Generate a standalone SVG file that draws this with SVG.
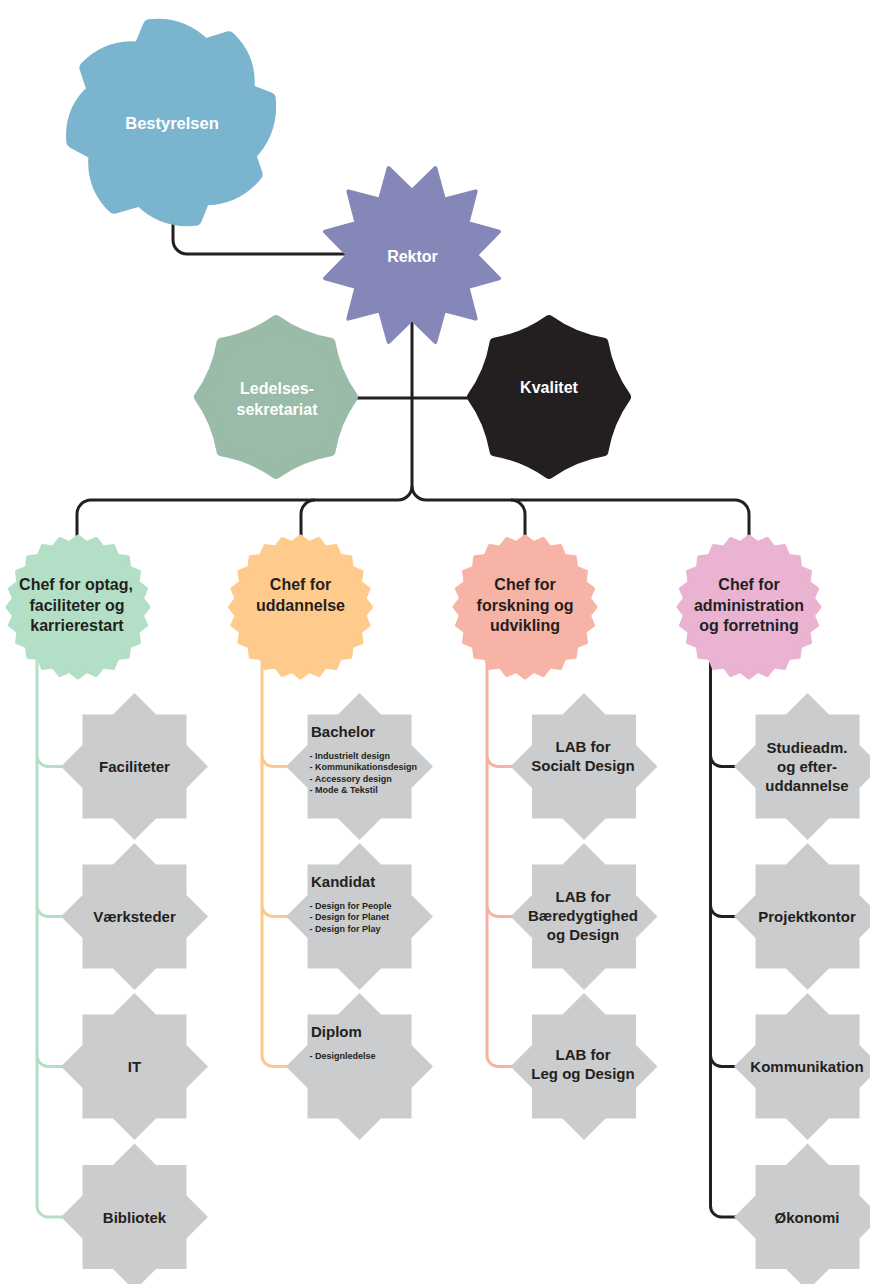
<svg xmlns="http://www.w3.org/2000/svg" xmlns:xlink="http://www.w3.org/1999/xlink" width="870" height="1284" viewBox="0 0 870 1284">
<style>
text{font-family:"Liberation Sans",Arial,sans-serif;font-weight:bold;text-anchor:middle;fill:#231f20}
.w{fill:#ffffff}
.s16{font-size:16px}
.s15{font-size:15px}
.s9{font-size:9px;text-anchor:start}
.s15l{font-size:15px;text-anchor:start}
.con{fill:none;stroke-width:3}
.k{stroke:#231f20}
.g{stroke:#b3dfc6}
.o{stroke:#fdc98a}
.r{stroke:#f6b2a3}
.grey{fill:#cbcccd}
</style>
<defs>
<polygon id="badge" stroke-width="3" stroke-linejoin="round" points="71,0 64.44,8.48 68.58,18.38 60.05,24.87 61.49,35.5 51.57,39.57 50.2,50.2 39.57,51.57 35.5,61.49 24.87,60.05 18.38,68.58 8.48,64.44 0,71 -8.48,64.44 -18.38,68.58 -24.87,60.05 -35.5,61.49 -39.57,51.57 -50.2,50.2 -51.57,39.57 -61.49,35.5 -60.05,24.87 -68.58,18.38 -64.44,8.48 -71,0 -64.44,-8.48 -68.58,-18.38 -60.05,-24.87 -61.49,-35.5 -51.57,-39.57 -50.2,-50.2 -39.57,-51.57 -35.5,-61.49 -24.87,-60.05 -18.38,-68.58 -8.48,-64.44 0,-71 8.48,-64.44 18.38,-68.58 24.87,-60.05 35.5,-61.49 39.57,-51.57 50.2,-50.2 51.57,-39.57 61.49,-35.5 60.05,-24.87 68.58,-18.38 64.44,-8.48"/>
<polygon id="oct" points="73.5,0 52,21.5 52,52 21.5,52 0,73.5 -21.5,52 -52,52 -52,21.5 -73.5,0 -52,-21.5 -52,-52 -21.5,-52 0,-73.5 21.5,-52 52,-52 52,-21.5"/>
<path id="soft" stroke-width="10" stroke-linejoin="round" d="M77,0 Q59.5,24.6 54.4,54.4 Q24.6,59.5 0,77 Q-24.6,59.5 -54.4,54.4 Q-59.5,24.6 -77,0 Q-59.5,-24.6 -54.4,-54.4 Q-24.6,-59.5 0,-77 Q24.6,-59.5 54.4,-54.4 Q59.5,-24.6 77,0Z"/>
</defs>

<g id="connectors">
<path class="con k" d="M173,200 V240 A14,14 0 0 0 187,254 H360"/>
<path class="con k" d="M340,398 H480"/>
<path class="con k" d="M412,300 V486 A14,14 0 0 1 398,500 H91 A14,14 0 0 0 77,514 V545"/>
<path class="con k" d="M412,486 A14,14 0 0 0 426,500 H735 A14,14 0 0 1 749,514 V545"/>
<path class="con k" d="M315,500 A14,14 0 0 0 301,514 V545"/>
<path class="con k" d="M511,500 A14,14 0 0 1 525,514 V545"/>
<path class="con g" d="M37,640 V1206 A11,11 0 0 0 48,1217 H70 M37,755.5 A11,11 0 0 0 48,766.5 H70 M37,905.5 A11,11 0 0 0 48,916.5 H70 M37,1055.5 A11,11 0 0 0 48,1066.5 H70"/>
<path class="con o" d="M262,640 V1055.5 A11,11 0 0 0 273,1066.5 H295 M262,755.5 A11,11 0 0 0 273,766.5 H295 M262,905.5 A11,11 0 0 0 273,916.5 H295"/>
<path class="con r" d="M487,640 V1055.5 A11,11 0 0 0 498,1066.5 H520 M487,755.5 A11,11 0 0 0 498,766.5 H520 M487,905.5 A11,11 0 0 0 498,916.5 H520"/>
<path class="con k" d="M710.5,640 V1206 A11,11 0 0 0 721.5,1217 H745 M710.5,755.5 A11,11 0 0 0 721.5,766.5 H745 M710.5,905.5 A11,11 0 0 0 721.5,916.5 H745 M710.5,1055.5 A11,11 0 0 0 721.5,1066.5 H745"/>
</g>

<g id="bestyrelsen">
<path fill="#7bb4cf" stroke="#7bb4cf" stroke-width="14" stroke-linejoin="round" transform="translate(171,122) scale(0.935) translate(-171,-122)" d="M148,19 Q182.5,15.5 207,40 L233,32 Q256.8,55 253,88 L276,97 Q279.5,132 255,157 L262,178 Q240.3,204.6 206,204 L197,226 Q162.5,229.5 138,205 L110,213 Q86,189.5 90,156 L66,143 Q63.2,110 88,88 L80,64 Q103.9,39.4 138,43 Z"/>
<text class="w" x="172" y="129" style="font-size:16.5px">Bestyrelsen</text>
</g>

<g id="rektor">
<polygon fill="#8587b9" stroke="#8587b9" stroke-width="4" stroke-linejoin="round" transform="translate(412,255)" points="64,0 86.93,23.29 55.43,32 63.64,63.64 32,55.43 23.29,86.93 0,64 -23.29,86.93 -32,55.43 -63.64,63.64 -55.43,32 -86.93,23.29 -64,0 -86.93,-23.29 -55.43,-32 -63.64,-63.64 -32,-55.43 -23.29,-86.93 0,-64 23.29,-86.93 32,-55.43 63.64,-63.64 55.43,-32 86.93,-23.29"/>
<text class="w s16" x="412.5" y="261.5">Rektor</text>
</g>

<g id="ledelsessekretariat">
<use xlink:href="#soft" href="#soft" transform="translate(276,397)" fill="#99bba8" stroke="#99bba8"/>
<text class="w s16" x="277" y="394">Ledelses-</text>
<text class="w s16" x="277" y="415">sekretariat</text>
</g>

<g id="kvalitet">
<use xlink:href="#soft" href="#soft" transform="translate(549,397)" fill="#231f20" stroke="#231f20"/>
<text class="w s16" x="549" y="393">Kvalitet</text>
</g>

<g id="chef-optag">
<use xlink:href="#badge" href="#badge" transform="translate(78,607)" fill="#b3dfc6" stroke="#b3dfc6"/>
<text class="s16" x="76" y="590">Chef for optag,</text>
<text class="s16" x="77" y="610.5">faciliteter og</text>
<text class="s16" x="77" y="631">karrierestart</text>
</g>

<g id="chef-uddannelse">
<use xlink:href="#badge" href="#badge" transform="translate(300.5,607)" fill="#fecb8d" stroke="#fecb8d"/>
<text class="s16" x="300.5" y="590">Chef for</text>
<text class="s16" x="300.5" y="611">uddannelse</text>
</g>

<g id="chef-forskning">
<use xlink:href="#badge" href="#badge" transform="translate(525,607)" fill="#f7b4a6" stroke="#f7b4a6"/>
<text class="s16" x="525" y="590">Chef for</text>
<text class="s16" x="525" y="610.5">forskning og</text>
<text class="s16" x="525" y="631">udvikling</text>
</g>

<g id="chef-administration">
<use xlink:href="#badge" href="#badge" transform="translate(749,607)" fill="#eab3d2" stroke="#eab3d2"/>
<text class="s16" x="749" y="590">Chef for</text>
<text class="s16" x="749" y="610.5">administration</text>
<text class="s16" x="749" y="631">og forretning</text>
</g>

<g id="faciliteter"><use class="grey" xlink:href="#oct" href="#oct" transform="translate(134.5,766.5)"/><text class="s15" x="134.5" y="771.5">Faciliteter</text></g>
<g id="vaerksteder"><use class="grey" xlink:href="#oct" href="#oct" transform="translate(134.5,916.5)"/><text class="s15" x="134.5" y="922">Værksteder</text></g>
<g id="it"><use class="grey" xlink:href="#oct" href="#oct" transform="translate(134.5,1066.5)"/><text class="s15" x="134.5" y="1072">IT</text></g>
<g id="bibliotek"><use class="grey" xlink:href="#oct" href="#oct" transform="translate(134.5,1217)"/><text class="s15" x="134.5" y="1223">Bibliotek</text></g>

<g id="bachelor"><use class="grey" xlink:href="#oct" href="#oct" transform="translate(359.5,766.5)"/>
<text class="s15l" x="311" y="737">Bachelor</text>
<text class="s9" x="309.5" y="758.5">- Industrielt design</text>
<text class="s9" x="309.5" y="770">- Kommunikationsdesign</text>
<text class="s9" x="309.5" y="781.5">- Accessory design</text>
<text class="s9" x="309.5" y="793">- Mode &amp; Tekstil</text>
</g>
<g id="kandidat"><use class="grey" xlink:href="#oct" href="#oct" transform="translate(359.5,916.5)"/>
<text class="s15l" x="311" y="887">Kandidat</text>
<text class="s9" x="309.5" y="908.5">- Design for People</text>
<text class="s9" x="309.5" y="920">- Design for Planet</text>
<text class="s9" x="309.5" y="931.5">- Design for Play</text>
</g>
<g id="diplom"><use class="grey" xlink:href="#oct" href="#oct" transform="translate(359.5,1066.5)"/>
<text class="s15l" x="311" y="1037">Diplom</text>
<text class="s9" x="309.5" y="1058.5">- Designledelse</text>
</g>

<g id="lab-socialt"><use class="grey" xlink:href="#oct" href="#oct" transform="translate(584,766.5)"/>
<text class="s15" x="583" y="751.5">LAB for</text>
<text class="s15" x="583" y="770.5">Socialt Design</text>
</g>
<g id="lab-baeredygtighed"><use class="grey" xlink:href="#oct" href="#oct" transform="translate(584,916.5)"/>
<text class="s15" x="583" y="901.5">LAB for</text>
<text class="s15" x="583" y="920.5">Bæredygtighed</text>
<text class="s15" x="583" y="939.5">og Design</text>
</g>
<g id="lab-leg"><use class="grey" xlink:href="#oct" href="#oct" transform="translate(584,1066.5)"/>
<text class="s15" x="583" y="1059.5">LAB for</text>
<text class="s15" x="583" y="1078.5">Leg og Design</text>
</g>

<g id="studieadm"><use class="grey" xlink:href="#oct" href="#oct" transform="translate(807.5,766.5)"/>
<text class="s15" x="807" y="752.5">Studieadm.</text>
<text class="s15" x="807" y="771.5">og efter-</text>
<text class="s15" x="807" y="790.5">uddannelse</text>
</g>
<g id="projektkontor"><use class="grey" xlink:href="#oct" href="#oct" transform="translate(807.5,916.5)"/><text class="s15" x="807" y="922">Projektkontor</text></g>
<g id="kommunikation"><use class="grey" xlink:href="#oct" href="#oct" transform="translate(807.5,1066.5)"/><text class="s15" x="807" y="1072">Kommunikation</text></g>
<g id="oekonomi"><use class="grey" xlink:href="#oct" href="#oct" transform="translate(807.5,1217)"/><text class="s15" x="807" y="1223">Økonomi</text></g>
</svg>
